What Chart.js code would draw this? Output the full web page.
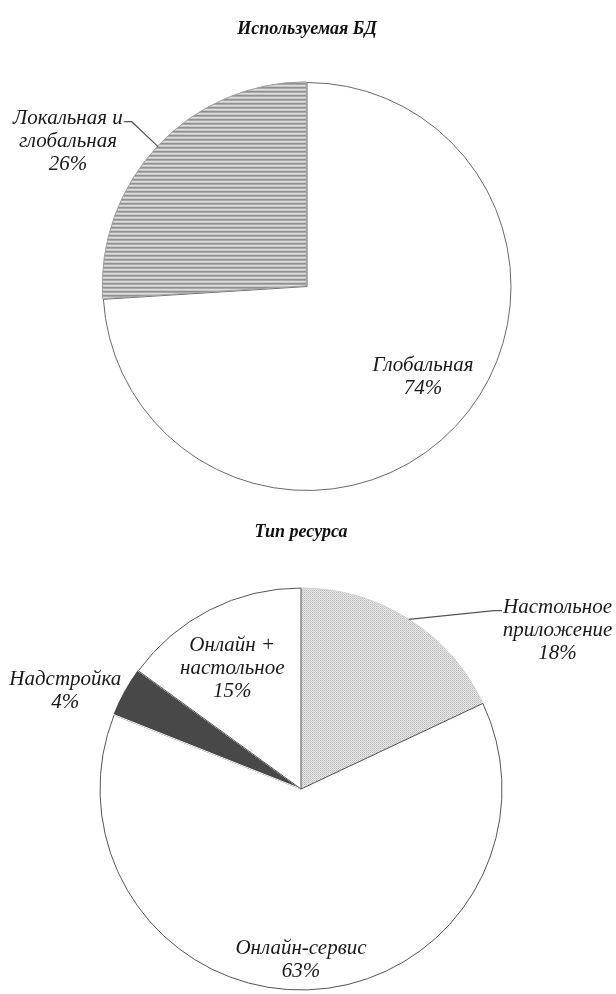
<!DOCTYPE html>
<html lang="ru">
<head>
<meta charset="utf-8">
<script src="https://cdn.jsdelivr.net/npm/chart.js@4"></script>
<style>
  body { margin: 0; background: #fff; width: 616px; height: 994px; overflow: hidden; }
  .box { position: absolute; left: 0; width: 616px; }
</style>
</head>
<body>
<div class="box" style="top:0;height:500px"><canvas id="dbChart"></canvas></div>
<div class="box" style="top:500px;height:494px"><canvas id="resChart"></canvas></div>
<script>
// Используемая БД
const dbLabels = ['Глобальная', 'Локальная и\nглобальная'];
const dbValues = [74, 26];

// Тип ресурса
const resLabels = ['Настольное\nприложение', 'Онлайн-сервис', 'Надстройка', 'Онлайн +\nнастольное'];
const resValues = [18, 63, 4, 15];

// fill patterns
function makePattern(w, h, draw) {
  const tile = document.createElement('canvas');
  tile.width = w; tile.height = h;
  draw(tile.getContext('2d'));
  return tile.getContext('2d').createPattern(tile, 'repeat');
}

const stripes = makePattern(4, 4, g => {
  const rows = ['#7c7c7c', '#c4c4c4', '#eeeeee', '#b2b2b2'];
  rows.forEach((c, i) => { g.fillStyle = c; g.fillRect(0, i, 4, 1); });
});

const dots = makePattern(2, 2, g => {
  g.fillStyle = '#e8e8e8'; g.fillRect(0, 0, 2, 2);
  g.fillStyle = '#b8b8b8'; g.fillRect(0, 0, 1, 1);
  g.fillStyle = '#cccccc'; g.fillRect(1, 1, 1, 1);
});

// labels around / inside slices
const sliceLabels = {
  id: 'sliceLabels',
  afterDatasetsDraw(chart, args, opts) {
    const ctx = chart.ctx;
    const meta = chart.getDatasetMeta(0);
    const values = chart.data.datasets[0].data;
    const total = values.reduce((a, b) => a + b, 0);
    const lh = 23;
    meta.data.forEach((arc, i) => {
      const p = arc.getProps(['x', 'y', 'startAngle', 'endAngle', 'outerRadius']);
      const place = opts.place[i];
      const mid = (p.startAngle + p.endAngle) / 2;
      const a = mid + place.shift * Math.PI / 180;
      const cx = p.x + Math.cos(a) * p.outerRadius * place.r;
      const cy = p.y + Math.sin(a) * p.outerRadius * place.r;
      const lines = chart.data.labels[i].split('\n');
      lines.push(Math.round(values[i] / total * 100) + '%');

      ctx.save();
      ctx.font = 'italic 21px "Liberation Serif"';
      ctx.fillStyle = '#1a1a1a';
      ctx.textAlign = 'center';
      ctx.textBaseline = 'middle';
      const top = cy - (lines.length - 1) * lh / 2;
      lines.forEach((t, k) => ctx.fillText(t, cx, top + k * lh));

      if (place.line) {
        const w = ctx.measureText(lines[0]).width;
        const side = Math.cos(a) < 0 ? 1 : -1;
        const ex = cx + side * (w / 2 + 1);
        const ey = top + 3;
        const sx = p.x + Math.cos(mid) * p.outerRadius;
        const sy = p.y + Math.sin(mid) * p.outerRadius;
        ctx.strokeStyle = '#555';
        ctx.lineWidth = 1.2;
        ctx.beginPath();
        ctx.moveTo(sx, sy);
        ctx.lineTo(ex + side * 8, ey);
        ctx.lineTo(ex, ey);
        ctx.stroke();
      }
      ctx.restore();
    });
  }
};

const titleFont = { family: 'Liberation Serif', size: 18, style: 'italic', weight: 'bold' };

new Chart(document.getElementById('dbChart'), {
  type: 'pie',
  data: {
    labels: dbLabels,
    datasets: [{
      data: dbValues,
      backgroundColor: ['#ffffff', stripes],
      borderColor: ['#6a6a6a', '#a0a0a0'],
      borderWidth: 1,
      offset: [0, 4]
    }]
  },
  options: {
    responsive: true,
    maintainAspectRatio: false,
    animation: false,
    radius: 204,
    layout: { padding: { top: 0, bottom: 0, left: 0, right: 2 } },
    plugins: {
      legend: { display: false },
      tooltip: { enabled: false },
      title: {
        display: true, text: 'Используемая БД', font: titleFont, color: '#111',
        padding: { top: 19, bottom: 32.4 }
      },
      sliceLabels: {
        place: [
          { r: 0.72, shift: -5.4, line: false },
          { r: 1.37, shift: -12, line: true }
        ]
      }
    }
  },
  plugins: [sliceLabels]
});

new Chart(document.getElementById('resChart'), {
  type: 'pie',
  data: {
    labels: resLabels,
    datasets: [{
      data: resValues,
      backgroundColor: [dots, '#ffffff', '#484848', '#ffffff'],
      borderColor: ['#cfcfcf', '#555555', '#ffffff', '#555555'],
      borderWidth: 1,
      offset: [0, 0, 3, 0]
    }]
  },
  options: {
    responsive: true,
    maintainAspectRatio: false,
    animation: false,
    radius: 201,
    layout: { padding: { top: 0, bottom: 4, left: 0, right: 14 } },
    plugins: {
      legend: { display: false },
      tooltip: { enabled: false },
      title: {
        display: true, text: 'Тип ресурса', font: titleFont, color: '#111',
        padding: { top: 21.2, bottom: 45.2 }
      },
      sliceLabels: {
        place: [
          { r: 1.5, shift: 25.9, line: true },
          { r: 0.85, shift: 1.8, line: false },
          { r: 1.27, shift: -6.2, line: false },
          { r: 0.69, shift: -2.7, line: false }
        ]
      }
    }
  },
  plugins: [sliceLabels]
});
</script>
</body>
</html>
